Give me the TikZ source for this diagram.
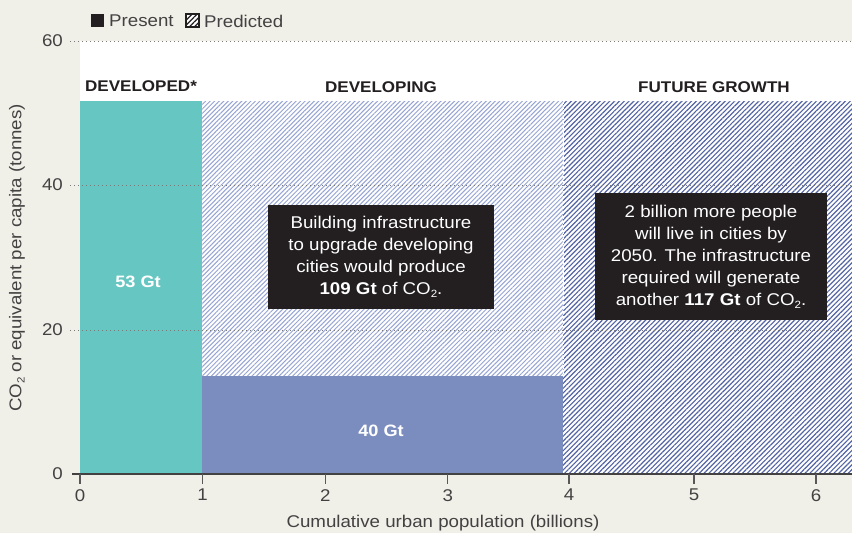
\documentclass[tikz,border=0pt]{standalone}
\usepackage{fontspec}
\setmainfont{Liberation Sans}[FakeStretch=1.1]
\usetikzlibrary{patterns.meta}
\definecolor{bg}{HTML}{F1F0E8}
\definecolor{tealbar}{HTML}{66C7C2}
\definecolor{purpbar}{HTML}{7B8DBF}
\definecolor{hatchA}{HTML}{95A4D3}
\definecolor{hatchB}{HTML}{5263A3}
\definecolor{ink}{HTML}{231F20}
\definecolor{gridc}{HTML}{7A7A7A}
\newcommand\subtwo{\raisebox{-0.35ex}{\fontsize{10.5}{10.5}\selectfont 2}}
\tikzset{
  ticklab/.style={text=ink!85, font=\fontsize{17}{17}\selectfont, inner sep=0pt},
  title/.style={text=ink, font=\fontsize{15.5}{15.5}\selectfont\bfseries, inner sep=0pt},
  barlab/.style={text=white, font=\fontsize{16.5}{16.5}\selectfont\bfseries, inner sep=0pt},
  infobox/.style={fill=ink, text=white, align=center, inner sep=0pt,
    font=\fontsize{17}{22}\selectfont},
  gridline/.style={gridc, line width=0.8pt, dash pattern=on 1pt off 3pt},
  tickmark/.style={ink!75, line width=1.2pt},
}
\begin{document}
\begin{tikzpicture}[x=1pt,y=-1pt]
\useasboundingbox (0,0) rectangle (852,533);
\fill[bg] (0,0) rectangle (852,533);
\fill[white] (80,41) rectangle (852,474);
% bars
\fill[tealbar] (80,101) rectangle (202,474);
\fill[white] (202,101) rectangle (852,474);
\fill[pattern={Lines[angle=45,distance=3.2pt,line width=1pt]}, pattern color=hatchA] (202,101) rectangle (563,376);
\fill[purpbar] (202,376) rectangle (563,474);
\fill[pattern={Lines[angle=45,distance=3.4pt,line width=1.15pt]}, pattern color=hatchB] (563,101) rectangle (852,474);
\draw[white, line width=1pt, dash pattern=on 3pt off 2pt] (563,101) -- (563,376);
% grid
\draw[gridline] (70,41) -- (852,41);
\draw[gridline] (70,185) -- (852,185);
\draw[gridline] (70,330) -- (852,330);
% axis
\draw[ink!85, line width=2.2pt] (72,474) -- (852,474);
\foreach \i/\xx in {0/80,1/202.6,2/325.2,3/447.8,4/569,5/694,6/816}{
  \draw[tickmark] (\xx,474) -- (\xx,484);
  \node[ticklab, anchor=north] (xt\i) at (\xx,489) {\i};
}
\node[ticklab, anchor=east] (y0) at (63,474) {0};
\node[ticklab, anchor=east] (y20) at (63,330) {20};
\node[ticklab, anchor=east] (y40) at (63,185) {40};
\node[ticklab, anchor=east] (y60) at (63,41) {60};
\node[ticklab, rotate=90] (ylab) at (17,258) {CO\subtwo{} or equivalent per capita (tonnes)};
\node[ticklab] (xlab) at (443,523) {Cumulative urban population (billions)};
% legend
\fill[ink] (91,14) rectangle (104,27);
\node[ticklab, anchor=west] (lp) at (109,21) {Present};
\fill[white] (186,14) rectangle (199,27);
\fill[pattern={Lines[angle=45,distance=3.5pt,line width=1.2pt]}, pattern color=ink] (186,14) rectangle (199,27);
\draw[ink, line width=1.2pt] (186,14) rectangle (199,27);
\node[ticklab, anchor=west] (lh) at (204,21) {Predicted};
% titles
\node[title] (t1) at (141,86) {DEVELOPED*};
\node[title] (t2) at (381,87) {DEVELOPING};
\node[title] (t3) at (714,87) {FUTURE GROWTH};
\node[barlab] (b1) at (138,282) {53 Gt};
\node[barlab] (b2) at (381,431) {40 Gt};
% info boxes
\node[infobox, minimum width=226pt, minimum height=104pt] (box1) at (381,257)
  {Building infrastructure\\to upgrade developing\\cities would produce\\\textbf{109 Gt} of CO\subtwo.};
\node[infobox, minimum width=232pt, minimum height=127pt] (box2) at (711,256.5)
  {2 billion more people\\will live in cities by\\2050. The infrastructure\\required will generate\\another \textbf{117 Gt} of CO\subtwo.};
\end{tikzpicture}
\end{document}
